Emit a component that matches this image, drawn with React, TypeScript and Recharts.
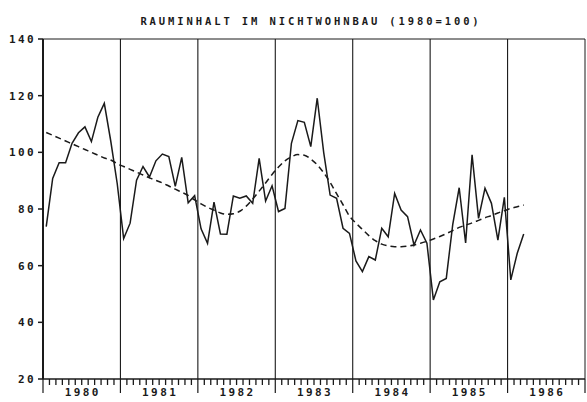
import { LineChart, Line, XAxis, YAxis, ReferenceLine } from 'recharts';

// monthly index values (1980 = 100)
const years = ['1980', '1981', '1982', '1983', '1984', '1985', '1986'];
const values1980 = [73.8, 90.8, 96.3, 96.3, 103.2, 106.9, 109, 103.8, 112.4, 117.3, 104, 89];
const values1981 = [69.6, 75, 90.2, 95, 91.3, 97, 99.4, 98.5, 88, 98.2, 82.2, 84.7];
const values1982 = [73, 67.9, 82.4, 71.2, 71.1, 84.6, 83.8, 84.6, 82, 97.9, 82.8, 88.2];
const values1983 = [79.1, 80.2, 103.2, 111.2, 110.6, 102, 119.1, 100, 84.9, 83.8, 73.2, 71.4];
const values1984 = [61.7, 57.9, 63.2, 62, 73.2, 70.2, 85.5, 79.6, 77.3, 67.3, 72.6, 67.9];
const values1985 = [47.9, 54.3, 55.5, 74.5, 87.5, 68, 99.1, 76.7, 87.3, 82, 69, 84.1];
const values1986 = [55, 64.4, 71.2];

// dashed trend curve, one value per month
const trend = [
  107, 106, 105, 104, 103, 102, 101, 100, 99, 98, 97.3, 96,
  95, 94, 93, 92, 91, 90.1, 89.2, 88.1, 87, 85.9, 84.8, 83.2,
  81.8, 80.6, 79.6, 78.6, 78.1, 78.3, 79.2, 81, 83.5, 86.3, 89.2, 92.2,
  94.8, 97, 98.4, 99.2, 99, 97.6, 95.6, 92.8, 89.4, 85.4, 81.5, 77.5,
  75, 72.8, 70.6, 68.8, 67.6, 67, 66.7, 66.7, 66.9, 67.3, 67.9, 68.6,
  69.4, 70.3, 71.3, 72.4, 73.5, 74.3, 75.1, 76, 76.9, 77.7, 78.6, 79.4,
  80.2, 80.8, 81.4,
];

const yTicks = [20, 40, 60, 80, 100, 120, 140];
const yearBounds = [12, 24, 36, 48, 60, 72];

const monthly = [
  ...values1980, ...values1981, ...values1982, ...values1983,
  ...values1984, ...values1985, ...values1986,
];
const data = monthly.map((v, i) => ({ t: i + 0.5, value: v, trend: trend[i] }));
const monthTicks = Array.from({ length: 85 }, (_, i) => i);

const INK = '#1a1a1a';
const FONT = '"DejaVu Sans Mono", monospace';
const AXIS_Y = 379;

function MonthTick({ x, payload }: any) {
  const m = payload.value as number;
  const isYear = m % 12 === 0;
  const label = m % 12 === 6 ? years[Math.floor(m / 12)] : null;
  const y = AXIS_Y;
  return (
    <g>
      <line x1={x} x2={x} y1={y} y2={y + (isYear ? 14 : 6)} stroke={INK} strokeWidth={isYear ? 1.2 : 1.3} />
      {label && (
        <text x={x + 1} y={y + 17} textAnchor="middle" fill={INK} fontSize={11}
          fontFamily={FONT} fontWeight="bold" letterSpacing={2.4}>
          {label}
        </text>
      )}
    </g>
  );
}

function ValueTick({ x, y, payload }: any) {
  return (
    <text x={x} y={y + 4} textAnchor="end" fill={INK} fontSize={11}
      fontFamily={FONT} fontWeight="bold" letterSpacing={2.4}>
      {payload.value}
    </text>
  );
}

export default function App() {
  return (
    <div style={{ position: 'absolute', left: 0, top: 0, width: 587, height: 402, background: '#fff' }}>
      <div style={{
        position: 'absolute', top: 15, left: 0, width: 622, textAlign: 'center',
        fontFamily: FONT, fontWeight: 'bold', fontSize: 10.5, letterSpacing: 2.9, color: INK,
      }}>
        RAUMINHALT IM NICHTWOHNBAU (1980=100)
      </div>
      <LineChart width={587} height={402} data={data} margin={{ top: 39, right: 2, bottom: 0, left: 0 }}>
        <XAxis type="number" dataKey="t" domain={[0, 84]} ticks={monthTicks} interval={0}
          tickLine={false} tickSize={0} tickMargin={0} tick={<MonthTick />} height={23}
          axisLine={{ stroke: INK, strokeWidth: 1.5 }} />
        <YAxis type="number" domain={[20, 140]} ticks={yTicks} width={43} interval={0}
          tickSize={5} tickMargin={2} tickLine={{ stroke: INK, strokeWidth: 1.5 }} tick={<ValueTick />}
          axisLine={{ stroke: INK, strokeWidth: 2 }} />
        {yearBounds.map((b) => (
          <ReferenceLine key={b} x={b} stroke={INK} strokeWidth={1.1} />
        ))}
        <ReferenceLine y={140} stroke={INK} strokeWidth={1} />
        <ReferenceLine x={84} stroke={INK} strokeWidth={1} />
        <Line type="monotone" dataKey="trend" stroke={INK} strokeWidth={1.5}
          strokeDasharray="6 4" dot={false} isAnimationActive={false} />
        <Line type="linear" dataKey="value" stroke={INK} strokeWidth={1.5}
          dot={false} isAnimationActive={false} />
      </LineChart>
    </div>
  );
}
